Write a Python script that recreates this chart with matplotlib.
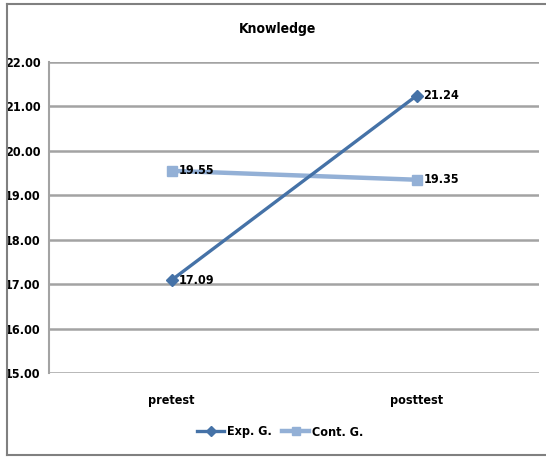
import matplotlib
matplotlib.use("Agg")
import matplotlib.pyplot as plt
from matplotlib.lines import Line2D

categories = ["pretest", "posttest"]
exp_values = [17.09, 21.24]
cont_values = [19.55, 19.35]
series_names = ["Exp. G.", "Cont. G."]
y_ticks = [15, 16, 17, 18, 19, 20, 21, 22]

plt.rcParams["font.family"] = ["DejaVu Sans"]
plt.rcParams["font.stretch"] = "condensed"
plt.rcParams["font.weight"] = "bold"

fig = plt.figure(figsize=(5.46, 4.57), dpi=100)
ax = fig.add_axes([49 / 546, 1 - 373 / 457, 490 / 546, 311 / 457])

exp_color = "#4572a7"
cont_color = "#93b0d6"
grid_color = "#a3a3a3"
fs = 9

x = list(range(len(categories)))
ax.plot(x, exp_values, color=exp_color, lw=2.4, marker="D", ms=6,
        label=series_names[0], zorder=4)
ax.plot(x, cont_values, color=cont_color, lw=3.2, marker="s", ms=7.5,
        label=series_names[1], zorder=3)

for xi, v in zip(x, exp_values):
    ax.annotate(f"{v:.2f}", (xi, v), xytext=(5, 0), textcoords="offset points",
                ha="left", va="center", fontsize=fs, fontweight="bold", zorder=5)
for xi, v in zip(x, cont_values):
    ax.annotate(f"{v:.2f}", (xi, v), xytext=(5, 0), textcoords="offset points",
                ha="left", va="center", fontsize=fs, fontweight="bold", zorder=5)

ax.set_xlim(-0.5, 1.5)
ax.set_ylim(15, 22)
ax.set_yticks(y_ticks)
ax.set_yticklabels([f"{t:.2f}" for t in y_ticks], fontsize=fs, fontweight="bold")
ax.set_xticks(x)
ax.set_xticklabels(categories, fontsize=fs, fontweight="bold")
ax.tick_params(axis="y", length=0, pad=6)
ax.tick_params(axis="x", length=0, pad=15)
ax.yaxis.grid(True, color=grid_color, lw=1.8)
ax.set_axisbelow(True)
for side in ["top", "right", "bottom"]:
    ax.spines[side].set_visible(False)
ax.spines["left"].set_color(grid_color)
ax.spines["left"].set_linewidth(1.5)

fig.text(278 / 546, 1 - 29 / 457, "Knowledge", ha="center", va="center",
         fontsize=10, fontweight="bold")

handles = [
    Line2D([], [], color=exp_color, lw=2.4, marker="D", ms=5),
    Line2D([], [], color=cont_color, lw=3.2, marker="s", ms=6),
]
fig.legend(handles, series_names, loc="center", bbox_to_anchor=(280 / 546, 1 - 432 / 457),
           ncol=2, frameon=False, handlelength=2.2, handletextpad=0.2,
           columnspacing=0.8, prop={"weight": "bold", "size": fs, "stretch": "condensed"})

# outer chart frame
frame_kw = dict(color="#808080", lw=1.5, transform=fig.transFigure)
fig.add_artist(Line2D([7 / 546, 7 / 546], [1 - 4 / 457, 1 - 455 / 457], **frame_kw))
fig.add_artist(Line2D([7 / 546, 1], [1 - 4 / 457, 1 - 4 / 457], **frame_kw))
fig.add_artist(Line2D([7 / 546, 1], [1 - 455 / 457, 1 - 455 / 457], **frame_kw))

fig.savefig("out.png", dpi=100, facecolor="white")
